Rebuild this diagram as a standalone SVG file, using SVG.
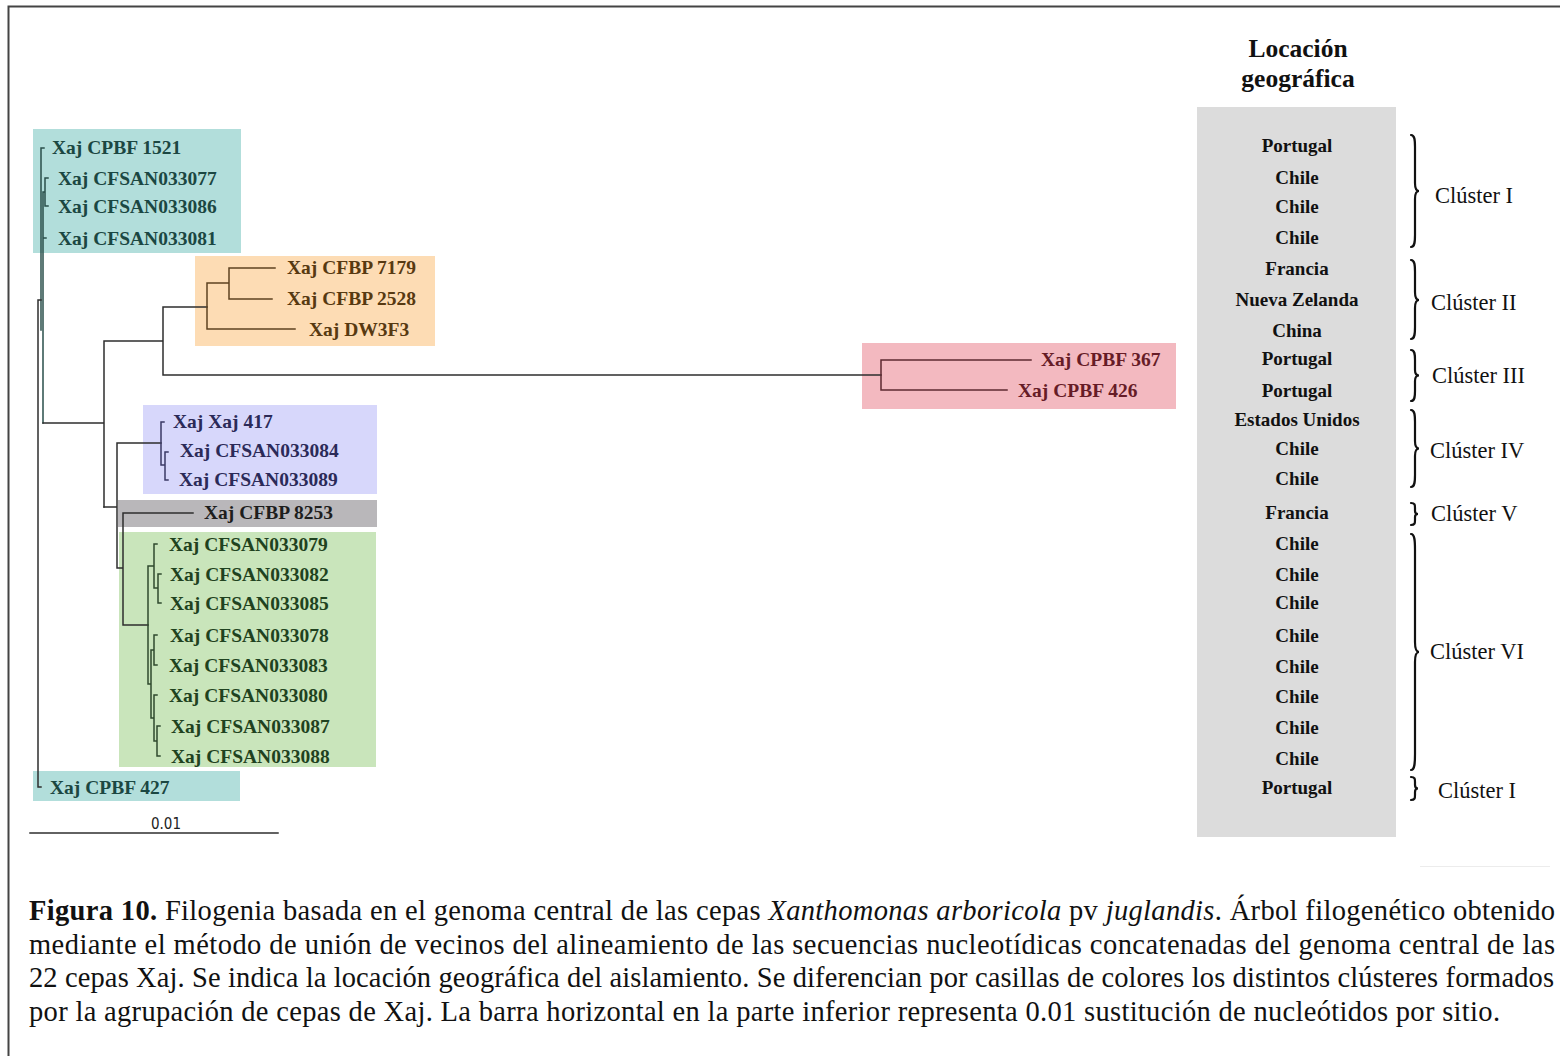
<svg xmlns="http://www.w3.org/2000/svg" width="1560" height="1056" viewBox="0 0 1560 1056">
  <style>
    .lbl { font-family: "Liberation Serif", "Times New Roman", serif; font-weight: bold; font-size: 19.5px; }
    .teal { fill: #1b4742; }
    .brown { fill: #573911; }
    .wine { fill: #661c27; }
    .indigo { fill: #2b2a58; }
    .grey { fill: #1e1e1e; }
    .leaf { fill: #1f4220; }
    .ctry { font-family: "Liberation Serif", "Times New Roman", serif; font-weight: bold; font-size: 19px; fill: #111; text-anchor: middle; }
    .head { font-family: "Liberation Serif", "Times New Roman", serif; font-weight: bold; font-size: 25.5px; fill: #111; text-anchor: middle; }
    .clu { font-family: "Liberation Serif", "Times New Roman", serif; font-size: 22.5px; fill: #111; }
    .cap { font-family: "Liberation Serif", "Times New Roman", serif; font-size: 28.5px; fill: #111; }
    .br { fill: none; stroke-width: 1.5; stroke-linecap: square; }
    .k { stroke: #2e2e2e; }
    .kt { stroke: #2a4f4b; }
    .ko { stroke: #5e4220; }
    .kr { stroke: #5e2a30; }
    .kp { stroke: #3b3a66; }
    .kg { stroke: #2f4a2e; }
    .brace { fill: none; stroke: #111; stroke-width: 2.2; stroke-linecap: round; }
  </style>

  <rect width="1560" height="1056" fill="#ffffff"/>
  <!-- page frame -->
  <path d="M8.5,1056 V6.5 H1560" fill="none" stroke="#444" stroke-width="2"/>

  <!-- clade boxes -->
  <g id="box-cluster1"><rect x="33" y="129" width="208" height="124" fill="#b2dedb"/></g>
  <g id="box-cluster2"><rect x="195" y="256" width="240" height="90" fill="#fddcb4"/></g>
  <g id="box-cluster3"><rect x="862" y="343" width="314" height="66" fill="#f3b9c0"/></g>
  <g id="box-cluster4"><rect x="143" y="405" width="234" height="89" fill="#d7d7fb"/></g>
  <g id="box-cluster5"><rect x="118" y="500" width="259" height="27" fill="#b9b7ba"/></g>
  <g id="box-cluster6"><rect x="119" y="532" width="257" height="235" fill="#c9e5bb"/></g>
  <g id="box-cluster1b"><rect x="33" y="771" width="207" height="30" fill="#b2dedb"/></g>

  <!-- tree branches -->
  <g id="connectors">
    <path class="br kt" d="M41,148 H44 M41,148 V330 M45,178 H48 M45,178 V206 H48 M43,192 H45 M43,192 V423 M43,238 H46"/>
    <path class="br k" d="M38,300 H41 M38,300 V787 H41"/>
    <path class="br k" d="M43,423 H104 M104,341 V507 M104,341 H163 M163,307 V375 M163,375 H881 M163,307 H207"/>
    <path class="br ko" d="M207,283 V329 H295 M207,283 H229 M229,268 V299 M229,268 H275 M229,299 H272"/>
    <path class="br kr" d="M881,360 V390 M881,360 H1031 M881,390 H1007"/>
    <path class="br k" d="M104,507 H117 M117,443 V568 M117,443 H161 M117,568 H123 M123,513 V625 M123,513 H193 M123,625 H148"/>
    <path class="br kp" d="M161,422 V465 M161,422 H164 M161,465 H165 M165,452 V480 M165,452 H168 M165,480 H168"/>
    <path class="br kg" d="M148,566 V684 M148,566 H154 M154,544 V588 M154,544 H157 M154,588 H158 M158,574 V603 M158,574 H161 M158,603 H161 M148,684 H151 M151,650 V718 M151,650 H154 M154,635 V665 M154,635 H157 M154,665 H157 M151,718 H154 M154,695 V741 M154,695 H157 M154,741 H157 M157,726 V756 M157,726 H160 M157,756 H160"/>
    <!-- scale bar -->
    <path class="br k" d="M30,833 H278"/>
  </g>
  <text x="166" y="829" text-anchor="middle" font-family="'Liberation Sans Narrow', 'DejaVu Sans Condensed', sans-serif" font-size="15" fill="#222">0.01</text>

  <!-- leaf labels -->
  <g id="cluster1-labels" class="lbl teal">
    <text x="52" y="154">Xaj CPBF 1521</text>
    <text x="58" y="185">Xaj CFSAN033077</text>
    <text x="58" y="213">Xaj CFSAN033086</text>
    <text x="58" y="245">Xaj CFSAN033081</text>
  </g>
  <g id="cluster2-labels" class="lbl brown">
    <text x="287" y="274">Xaj CFBP 7179</text>
    <text x="287" y="305">Xaj CFBP 2528</text>
    <text x="309" y="336">Xaj DW3F3</text>
  </g>
  <g id="cluster3-labels" class="lbl wine">
    <text x="1041" y="366">Xaj CPBF 367</text>
    <text x="1018" y="397">Xaj CPBF 426</text>
  </g>
  <g id="cluster4-labels" class="lbl indigo">
    <text x="173" y="428">Xaj Xaj 417</text>
    <text x="180" y="457">Xaj CFSAN033084</text>
    <text x="179" y="486">Xaj CFSAN033089</text>
  </g>
  <g id="cluster5-labels" class="lbl grey">
    <text x="204" y="519">Xaj CFBP 8253</text>
  </g>
  <g id="cluster6-labels" class="lbl leaf">
    <text x="169" y="551">Xaj CFSAN033079</text>
    <text x="170" y="581">Xaj CFSAN033082</text>
    <text x="170" y="610">Xaj CFSAN033085</text>
    <text x="170" y="642">Xaj CFSAN033078</text>
    <text x="169" y="672">Xaj CFSAN033083</text>
    <text x="169" y="702">Xaj CFSAN033080</text>
    <text x="171" y="733">Xaj CFSAN033087</text>
    <text x="171" y="763">Xaj CFSAN033088</text>
  </g>
  <g id="cluster1b-labels" class="lbl teal">
    <text x="50" y="794">Xaj CPBF 427</text>
  </g>

  <!-- geographic location column -->
  <g id="location">
    <text class="head" x="1298" y="57">Locación</text>
    <text class="head" x="1298" y="87">geográfica</text>
    <rect x="1197" y="107" width="199" height="730" fill="#dcdcdc"/>
    <text class="ctry" x="1297" y="152">Portugal</text>
    <text class="ctry" x="1297" y="184">Chile</text>
    <text class="ctry" x="1297" y="213">Chile</text>
    <text class="ctry" x="1297" y="244">Chile</text>
    <text class="ctry" x="1297" y="275">Francia</text>
    <text class="ctry" x="1297" y="306">Nueva Zelanda</text>
    <text class="ctry" x="1297" y="337">China</text>
    <text class="ctry" x="1297" y="365">Portugal</text>
    <text class="ctry" x="1297" y="397">Portugal</text>
    <text class="ctry" x="1297" y="426">Estados Unidos</text>
    <text class="ctry" x="1297" y="455">Chile</text>
    <text class="ctry" x="1297" y="485">Chile</text>
    <text class="ctry" x="1297" y="519">Francia</text>
    <text class="ctry" x="1297" y="550">Chile</text>
    <text class="ctry" x="1297" y="581">Chile</text>
    <text class="ctry" x="1297" y="609">Chile</text>
    <text class="ctry" x="1297" y="642">Chile</text>
    <text class="ctry" x="1297" y="673">Chile</text>
    <text class="ctry" x="1297" y="703">Chile</text>
    <text class="ctry" x="1297" y="734">Chile</text>
    <text class="ctry" x="1297" y="765">Chile</text>
    <text class="ctry" x="1297" y="794">Portugal</text>
  </g>

  <!-- cluster braces -->
  <g id="braces">
    <path class="brace" d="M1411,135 C1415,135 1415,141 1415,147 L1415,183 C1415,188 1416,191 1419,191 C1416,191 1415,194 1415,199 L1415,235 C1415,241 1415,247 1411,247"/>
    <path class="brace" d="M1411,260 C1415,260 1415,266 1415,272 L1415,292 C1415,297 1416,300 1419,300 C1416,300 1415,303 1415,308 L1415,327 C1415,333 1415,339 1411,339"/>
    <path class="brace" d="M1411,350 C1415,350 1415,355 1415,360 L1415,370 C1415,374 1416,375.5 1419,375.5 C1416,375.5 1415,377 1415,381 L1415,391 C1415,396 1415,401 1411,401"/>
    <path class="brace" d="M1411,410 C1415,410 1415,416 1415,422 L1415,441 C1415,446 1416,448.5 1419,448.5 C1416,448.5 1415,451 1415,456 L1415,475 C1415,481 1415,487 1411,487"/>
    <path class="brace" d="M1411,503 C1415,503 1415,505 1415,508 L1415,511 C1415,513 1416,514 1418,514 C1416,514 1415,515 1415,517 L1415,520 C1415,523 1415,525 1411,525"/>
    <path class="brace" d="M1411,534 C1415,534 1415,542 1415,550 L1415,642 C1415,648 1416,652 1419,652 C1416,652 1415,656 1415,662 L1415,754 C1415,762 1415,770 1411,770"/>
    <path class="brace" d="M1411,777 C1415,777 1415,779 1415,782 L1415,785 C1415,787 1416,788.5 1418,788.5 C1416,788.5 1415,790 1415,792 L1415,795 C1415,798 1415,800 1411,800"/>
  </g>
  <g id="cluster-names" class="clu">
    <text x="1435" y="203">Clúster I</text>
    <text x="1431" y="310">Clúster II</text>
    <text x="1432" y="383">Clúster III</text>
    <text x="1430" y="458">Clúster IV</text>
    <text x="1431" y="521">Clúster V</text>
    <text x="1430" y="659">Clúster VI</text>
    <text x="1438" y="798">Clúster I</text>
  </g>
  <path d="M1420,866.5 H1550" stroke="#ececec" stroke-width="1"/>

  <!-- figure caption -->
  <g id="caption" class="cap">
    <text x="29" y="920" textLength="1526" lengthAdjust="spacing"><tspan font-weight="bold">Figura 10.</tspan> Filogenia basada en el genoma central de las cepas <tspan font-style="italic">Xanthomonas arboricola</tspan> pv <tspan font-style="italic">juglandis</tspan>. Árbol filogenético obtenido</text>
    <text x="29" y="954" textLength="1526" lengthAdjust="spacing">mediante el método de unión de vecinos del alineamiento de las secuencias nucleotídicas concatenadas del genoma central de las</text>
    <text x="29" y="987" textLength="1525" lengthAdjust="spacing">22 cepas Xaj. Se indica la locación geográfica del aislamiento. Se diferencian por casillas de colores los distintos clústeres formados</text>
    <text x="29" y="1021" textLength="1471" lengthAdjust="spacing">por la agrupación de cepas de Xaj. La barra horizontal en la parte inferior representa 0.01 sustitución de nucleótidos por sitio.</text>
  </g>
</svg>
